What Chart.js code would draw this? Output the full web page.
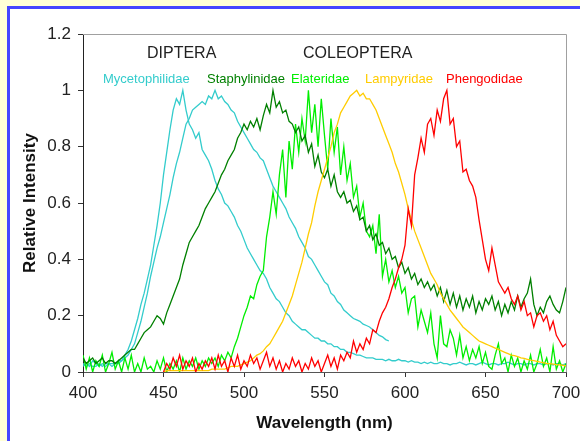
<!DOCTYPE html>
<html>
<head>
<meta charset="utf-8">
<script src="https://cdn.jsdelivr.net/npm/chart.js@4/dist/chart.umd.min.js"></script>
<style>
  html, body { margin: 0; padding: 0; background: #ffffd6; }
  canvas { display: block; }
</style>
</head>
<body>
<canvas id="spectraChart" width="580" height="441"></canvas>
<script>
// Bioluminescence emission spectra, sampled every 2 nm
const STEP = 2;
const xTicks = [400, 450, 500, 550, 600, 650, 700];
const yTicks = [0, 0.2, 0.4, 0.6, 0.8, 1, 1.2];

// Mycetophilidae, narrow spectrum (starts at 400 nm)
const mycetophilidaeNarrow = [
    0.02, 0.03, 0.02, 0.04, 0.03, 0.02, 0.03, 0.02, 0.03, 0.03,
    0.03, 0.04, 0.04, 0.06, 0.08, 0.11, 0.15, 0.19, 0.24, 0.28,
    0.33, 0.38, 0.45, 0.52, 0.60, 0.70, 0.78, 0.86, 0.93, 0.97,
    0.95, 1.0, 0.93, 0.88, 0.86, 0.83, 0.85, 0.79, 0.77, 0.75,
    0.72, 0.68, 0.65, 0.63, 0.60, 0.59, 0.57, 0.55, 0.52, 0.50,
    0.47, 0.44, 0.42, 0.40, 0.38, 0.36, 0.35, 0.33, 0.30, 0.28,
    0.26, 0.25, 0.23, 0.21, 0.20, 0.18, 0.17, 0.16, 0.15, 0.15,
    0.14, 0.13, 0.12, 0.12, 0.11, 0.11, 0.10, 0.10, 0.09, 0.09,
    0.08, 0.08, 0.07, 0.07, 0.065, 0.06, 0.06, 0.055, 0.05, 0.05,
    0.05, 0.045, 0.045, 0.045, 0.04, 0.045, 0.04, 0.04, 0.045, 0.04,
    0.04, 0.035, 0.04, 0.035, 0.035, 0.03, 0.035, 0.03, 0.035, 0.03,
    0.03, 0.035, 0.03, 0.03, 0.025, 0.03, 0.03, 0.035, 0.03, 0.025,
    0.03, 0.03, 0.025, 0.03, 0.035, 0.03, 0.025, 0.03, 0.03, 0.025,
    0.03, 0.03, 0.035, 0.03, 0.025, 0.03, 0.03, 0.025, 0.03, 0.03,
    0.025, 0.03, 0.03, 0.025, 0.03, 0.03, 0.025, 0.03, 0.03, 0.025,
    0.03
];

// Mycetophilidae, broad spectrum (400 - 590 nm)
const mycetophilidaeBroad = [
    0.03, 0.02, 0.03, 0.02, 0.02, 0.03, 0.02, 0.03, 0.03, 0.02,
    0.03, 0.03, 0.04, 0.05, 0.06, 0.08, 0.10, 0.14, 0.18, 0.23,
    0.28, 0.34, 0.39, 0.44, 0.48, 0.53, 0.58, 0.63, 0.69, 0.74,
    0.78, 0.83, 0.88, 0.90, 0.93, 0.94, 0.95, 0.96, 0.95, 0.98,
    0.97, 1.0, 0.97, 0.98, 0.96, 0.95, 0.93, 0.92, 0.89, 0.87,
    0.85, 0.83, 0.81, 0.79, 0.78, 0.76, 0.75, 0.72, 0.69, 0.66,
    0.64, 0.62, 0.60, 0.58, 0.55, 0.53, 0.51, 0.48, 0.46, 0.44,
    0.41, 0.40, 0.38, 0.36, 0.34, 0.32, 0.31, 0.28, 0.27, 0.25,
    0.24, 0.22, 0.21, 0.20, 0.19, 0.185, 0.18, 0.17, 0.165, 0.16,
    0.15, 0.14, 0.13, 0.125, 0.115, 0.11
];

// Staphylinidae (400 - 700 nm)
const staphylinidae = [
    0.05, 0.03, 0.04, 0.05, 0.03, 0.04, 0.05, 0.03, 0.04, 0.04,
    0.03, 0.04, 0.05, 0.06, 0.07, 0.08, 0.08, 0.10, 0.12, 0.14,
    0.15, 0.16, 0.18, 0.20, 0.19, 0.17, 0.21, 0.24, 0.27, 0.30,
    0.33, 0.38, 0.42, 0.46, 0.48, 0.50, 0.52, 0.55, 0.58, 0.60,
    0.62, 0.64, 0.67, 0.70, 0.72, 0.75, 0.77, 0.79, 0.83, 0.85,
    0.88, 0.86, 0.89, 0.87, 0.90, 0.86, 0.91, 0.95, 0.92, 1.0,
    0.94, 0.96, 0.92, 0.93, 0.89, 0.88, 0.85, 0.87, 0.82, 0.84,
    0.78, 0.81, 0.73, 0.77, 0.71, 0.69, 0.72, 0.66, 0.70, 0.64,
    0.62, 0.64, 0.60, 0.61, 0.57, 0.59, 0.54, 0.55, 0.50, 0.52,
    0.47, 0.49, 0.45, 0.46, 0.42, 0.44, 0.40, 0.41, 0.37, 0.39,
    0.35, 0.37, 0.33, 0.35, 0.31, 0.33, 0.30, 0.32, 0.29, 0.31,
    0.27, 0.30, 0.25, 0.29, 0.24, 0.28, 0.23, 0.27, 0.22, 0.26,
    0.23, 0.27, 0.21, 0.25, 0.22, 0.26, 0.24, 0.27, 0.22, 0.25,
    0.20, 0.24, 0.21, 0.25, 0.22, 0.27, 0.23, 0.26, 0.28, 0.33,
    0.24, 0.20, 0.23, 0.21, 0.25, 0.27, 0.24, 0.22, 0.21, 0.25,
    0.30
];

// Elateridae (400 - 700 nm)
const elateridae = [
    0.06, 0.01, 0.05, 0.00, 0.04, 0.02, 0.06, 0.00, 0.03, 0.07,
    0.01, 0.04, 0.00, 0.05, 0.01, 0.06, 0.00, 0.03, 0.00, 0.05,
    0.01, 0.02, 0.00, 0.04, 0.01, 0.05, 0.00, 0.03, 0.01, 0.04,
    0.00, 0.05, 0.01, 0.04, 0.02, 0.05, 0.01, 0.04, 0.02, 0.05,
    0.03, 0.05, 0.02, 0.06, 0.04, 0.07, 0.05, 0.09, 0.12, 0.16,
    0.20, 0.23, 0.27, 0.26, 0.31, 0.34, 0.36, 0.48, 0.55, 0.64,
    0.56, 0.70, 0.79, 0.62, 0.82, 0.72, 0.88, 0.78, 0.90, 0.82,
    1.0, 0.85, 0.95, 0.80, 0.97, 0.84, 0.72, 0.90, 0.78, 0.87,
    0.70, 0.80, 0.68, 0.74, 0.62, 0.66, 0.55, 0.60, 0.50, 0.48,
    0.52, 0.42, 0.56, 0.34, 0.40, 0.32, 0.36, 0.30, 0.34, 0.28,
    0.30, 0.21, 0.26, 0.27, 0.16, 0.22, 0.18, 0.14, 0.21, 0.10,
    0.05, 0.20, 0.10, 0.09, 0.15, 0.12, 0.06, 0.13, 0.05, 0.09,
    0.04, 0.08, 0.05, 0.09, 0.03, 0.07, 0.02, 0.01, 0.06, 0.10,
    0.03, 0.05, 0.00, 0.06, 0.02, 0.05, 0.00, 0.04, 0.01, 0.06,
    0.00, 0.03, 0.08, 0.02, 0.05, 0.00, 0.09, 0.01, 0.04, 0.00,
    0.03
];

// Lampyridae (450 - 700 nm)
const lampyridae = [
    0.00, 0.005, 0.005, 0.005, 0.005, 0.005, 0.005, 0.005, 0.005, 0.005,
    0.005, 0.005, 0.005, 0.005, 0.005, 0.01, 0.01, 0.01, 0.01, 0.01,
    0.015, 0.02, 0.02, 0.02, 0.025, 0.03, 0.035, 0.04, 0.05, 0.06,
    0.065, 0.075, 0.09, 0.10, 0.12, 0.14, 0.16, 0.18, 0.21, 0.24,
    0.27, 0.31, 0.35, 0.39, 0.44, 0.49, 0.53, 0.59, 0.64, 0.68,
    0.72, 0.76, 0.80, 0.85, 0.88, 0.92, 0.94, 0.96, 0.98, 0.99,
    1.0, 0.98, 0.99, 0.97, 0.97, 0.95, 0.93, 0.90, 0.87, 0.84,
    0.81, 0.78, 0.74, 0.71, 0.67, 0.63, 0.58, 0.54, 0.50, 0.47,
    0.44, 0.41, 0.38, 0.35, 0.33, 0.31, 0.28, 0.26, 0.24, 0.22,
    0.205, 0.19, 0.175, 0.16, 0.15, 0.14, 0.13, 0.12, 0.11, 0.105,
    0.10, 0.095, 0.09, 0.085, 0.08, 0.075, 0.07, 0.065, 0.06, 0.058,
    0.055, 0.05, 0.048, 0.045, 0.042, 0.04, 0.038, 0.035, 0.033, 0.03,
    0.03, 0.028, 0.026, 0.025, 0.024, 0.022
];

// Phengodidae (450 - 700 nm)
const phengodidae = [
    0.00, 0.03, 0.01, 0.05, 0.02, 0.06, 0.01, 0.04, 0.02, 0.05,
    0.00, 0.03, 0.01, 0.04, 0.02, 0.05, 0.01, 0.06, 0.02, 0.04,
    0.00, 0.05, 0.02, 0.06, 0.01, 0.04, 0.02, 0.06, 0.03, 0.05,
    0.01, 0.04, 0.07, 0.02, 0.05, 0.01, 0.04, 0.00, 0.03, 0.01,
    0.05, 0.02, 0.04, 0.00, 0.03, 0.01, 0.05, 0.02, 0.04, 0.00,
    0.03, 0.06, 0.02, 0.05, 0.01, 0.06, 0.04, 0.07, 0.05, 0.11,
    0.07, 0.10, 0.08, 0.12, 0.10, 0.15, 0.14, 0.18, 0.21, 0.23,
    0.26, 0.30, 0.33, 0.37, 0.40, 0.45, 0.58, 0.52, 0.70, 0.76,
    0.83, 0.78, 0.88, 0.90, 0.84, 0.93, 0.89, 0.97, 1.0, 0.88,
    0.90, 0.80, 0.82, 0.71, 0.72, 0.68, 0.66, 0.62, 0.54, 0.47,
    0.40, 0.36, 0.44, 0.38, 0.32, 0.30, 0.28, 0.30, 0.26, 0.24,
    0.27, 0.22, 0.25, 0.20, 0.21, 0.16, 0.20, 0.21, 0.18, 0.20,
    0.15, 0.18, 0.13, 0.11, 0.09, 0.10
];

// group labels and family labels above the curves
const groupLabels = [
    { text: "DIPTERA", x: 147, y: 54 },
    { text: "COLEOPTERA", x: 303, y: 54 }
];
const familyLabels = [
    { text: "Mycetophilidae", x: 103, color: "#33cccc" },
    { text: "Staphylinidae", x: 207, color: "#008000" },
    { text: "Elateridae", x: 291, color: "#00ee00" },
    { text: "Lampyridae", x: 365, color: "#ffcc00" },
    { text: "Phengodidae", x: 446, color: "#ff0000" }
];

const FONT = '"Liberation Sans", Arial, sans-serif';

function toPoints(values, start) {
    return values.map((v, i) => ({ x: start + i * STEP, y: v }));
}

function spectrum(label, values, start, color) {
    return {
        label: label,
        data: toPoints(values, start),
        borderColor: color,
        borderWidth: 1.3,
        pointRadius: 0,
        fill: false,
        tension: 0
    };
}

// Draws the pale frame, blue border and plot box edges
const framePlugin = {
    id: "frame",
    beforeDraw(chart) {
        const ctx = chart.ctx;
        const { width, height } = chart;
        ctx.save();
        ctx.fillStyle = "#ffffd6";
        ctx.fillRect(0, 0, width, height);
        ctx.fillStyle = "#4545ff";
        ctx.fillRect(7, 6, width - 7, height - 6);
        ctx.fillStyle = "#ffffff";
        ctx.fillRect(10, 9, width - 10, height - 9);
        ctx.restore();
    },
    afterDraw(chart) {
        const ctx = chart.ctx;
        const area = chart.chartArea;
        ctx.save();
        ctx.strokeStyle = "#a0a0a0";
        ctx.lineWidth = 1;
        ctx.beginPath();
        ctx.moveTo(area.left, area.top + 0.5);
        ctx.lineTo(area.right + 0.5, area.top + 0.5);
        ctx.lineTo(area.right + 0.5, area.bottom);
        ctx.stroke();

        ctx.textBaseline = "middle";
        ctx.textAlign = "left";
        ctx.fillStyle = "#222";
        ctx.font = "16px " + FONT;
        groupLabels.forEach(l => ctx.fillText(l.text, l.x, l.y));

        ctx.font = "13px " + FONT;
        familyLabels.forEach(l => {
            ctx.fillStyle = l.color;
            ctx.fillText(l.text, l.x, 79);
        });
        ctx.restore();
    }
};

const ctx = document.getElementById("spectraChart").getContext("2d");

new Chart(ctx, {
    type: "line",
    data: {
        datasets: [
            spectrum("Phengodidae", phengodidae, 450, "#ff0000"),
            spectrum("Lampyridae", lampyridae, 450, "#ffcc00"),
            spectrum("Staphylinidae", staphylinidae, 400, "#008000"),
            spectrum("Elateridae", elateridae, 400, "#00ee00"),
            spectrum("Mycetophilidae", mycetophilidaeBroad, 400, "#33cccc"),
            spectrum("Mycetophilidae", mycetophilidaeNarrow, 400, "#33cccc")
        ]
    },
    options: {
        responsive: false,
        animation: false,
        devicePixelRatio: 1,
        layout: {
            padding: { top: 34, right: 14, bottom: 0, left: 0 }
        },
        plugins: {
            legend: { display: false },
            tooltip: { enabled: false }
        },
        scales: {
            x: {
                type: "linear",
                min: 400,
                max: 700,
                afterBuildTicks: scale => {
                    scale.ticks = xTicks.map(v => ({ value: v }));
                },
                afterFit: scale => {
                    scale.height = 69;
                    // let the last label hang into the right margin
                    scale.paddingLeft = 0;
                    scale.paddingRight = 0;
                },
                grid: {
                    drawOnChartArea: false,
                    drawTicks: true,
                    tickLength: 5,
                    color: "#333"
                },
                border: { display: true, color: "#555", width: 1 },
                ticks: {
                    color: "#222",
                    padding: 6,
                    maxRotation: 0,
                    font: { family: FONT, size: 17 }
                },
                title: {
                    display: true,
                    text: "Wavelength (nm)",
                    color: "#111",
                    padding: { top: 0, bottom: 7 },
                    font: { family: FONT, size: 17, weight: "bold" }
                }
            },
            y: {
                min: 0,
                max: 1.2,
                afterBuildTicks: scale => {
                    scale.ticks = yTicks.map(v => ({ value: v }));
                },
                afterFit: scale => { scale.width = 83; },
                grid: {
                    drawOnChartArea: false,
                    drawTicks: true,
                    tickLength: 5,
                    color: "#333"
                },
                border: { display: true, color: "#222", width: 1 },
                ticks: {
                    color: "#222",
                    padding: 7,
                    font: { family: FONT, size: 17 },
                    callback: v => String(+v.toFixed(1))
                },
                title: {
                    display: true,
                    text: "Relative Intensity",
                    color: "#111",
                    padding: { top: 20, bottom: 0 },
                    font: { family: FONT, size: 17, weight: "bold" }
                }
            }
        }
    },
    plugins: [framePlugin]
});
</script>
</body>
</html>
